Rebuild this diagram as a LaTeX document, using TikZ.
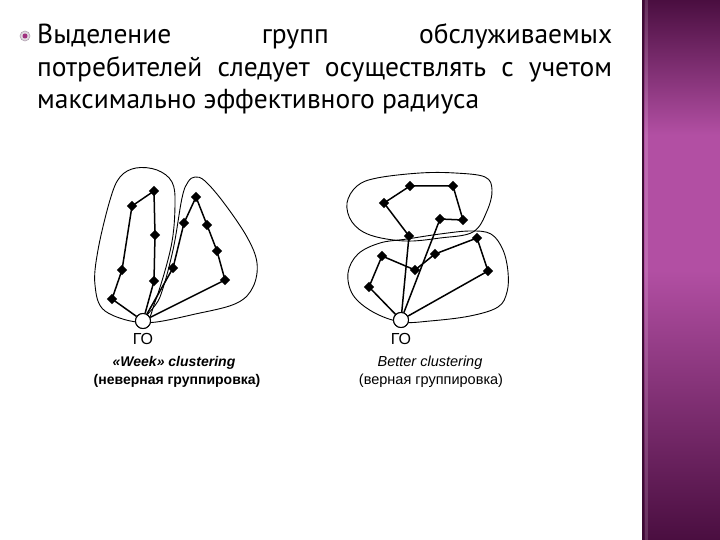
\documentclass[tikz,border=0pt]{standalone}
\usepackage{fontspec}
\setmainfont{PT Sans}
\newfontfamily\labfont{Liberation Sans}
\usetikzlibrary{shapes.geometric}
\definecolor{bardark}{HTML}{4A0E40}
\definecolor{barmid}{HTML}{B24FA3}
\definecolor{bullring}{HTML}{B0A0B0}
\definecolor{bulldot}{HTML}{A0307F}
\tikzset{
  pt/.style={diamond, fill=black, inner sep=0pt, minimum size=10.5pt},
  go/.style={circle, draw=black, fill=white, line width=1pt, inner sep=0pt, minimum size=15pt},
  edge/.style={line width=1.5pt},
  blob/.style={line width=0.9pt},
  body/.style={anchor=base west, inner sep=0pt, font=\fontsize{27.5}{33}\selectfont},
  lab/.style={inner sep=0pt, anchor=base, font=\labfont\fontsize{14.5}{16}\selectfont}
}
\begin{document}
\begin{tikzpicture}[x=1pt,y=-1pt]
\useasboundingbox (0,0) rectangle (720,540);
\fill[white] (0,0) rectangle (720,540);
% side bar
\shade[top color=bardark, bottom color=barmid, middle color=barmid] (642,0) rectangle (720,270);
\shade[top color=barmid, bottom color=bardark] (642,270) rectangle (720,540);
\fill[bardark!80!black] (642,0) rectangle (644,540);
\fill[white, opacity=0.15] (645,0) rectangle (648,540);
% bullet
\node[circle, fill=bullring!40, draw=bullring, line width=0.6pt, minimum size=10pt, inner sep=0pt] (bul) at (25,36) {};
\node[circle, fill=bulldot, minimum size=5pt, inner sep=0pt] (buld) at (25,36) {};
% text
\node[body] (t1) at (37,44) {\makebox[575pt][s]{Выделение групп обслуживаемых}};
\node[body] (t2) at (37,77) {\makebox[575pt][s]{потребителей следует осуществлять с учетом}};
\node[body] (t3) at (37,109) {максимально эффективного радиуса};

% ===== left diagram =====
\draw[blob] plot[smooth cycle, tension=0.6] coordinates {(143,322) (105,311) (95,285) (98,250) (110,200) (120,177) (136,168) (157,170) (172,182) (175,205) (171,247) (155,302)};
\draw[blob] plot[smooth cycle, tension=0.6] coordinates {(146,322) (160,297) (173,250) (182,198) (188,182) (195,177) (205,181) (224,203) (247,237) (257,263) (253,287) (237,303) (200,313)};
\node[go] (go1) at (143,321) {};
\node[pt] (a1) at (112,299) {};
\node[pt] (a2) at (122,270) {};
\node[pt] (a3) at (132,206) {};
\node[pt] (a4) at (154,191) {};
\node[pt] (a5) at (155,235) {};
\node[pt] (a6) at (154,281) {};
\node[pt] (b1) at (173,268) {};
\node[pt] (b2) at (184,223) {};
\node[pt] (b3) at (196,197) {};
\node[pt] (b4) at (207,225) {};
\node[pt] (b5) at (217,251) {};
\node[pt] (b6) at (225,280) {};
\draw[edge] (go1) -- (a1.center) -- (a2.center) -- (a3.center) -- (a4.center) -- (a5.center) -- (a6.center) -- (go1);
\draw[edge] (go1) -- (b1.center) -- (b2.center) -- (b3.center) -- (b4.center) -- (b5.center) -- (b6.center) -- (go1);
\node[go] at (143,321) {};
\node[lab, font=\labfont\fontsize{16}{18}\selectfont] (g1) at (143,344) {ГО};
\node[lab, font=\labfont\bfseries\itshape\fontsize{14}{16}\selectfont] (l1) at (174,366) {«Week» clustering};
\node[lab, font=\labfont\bfseries\fontsize{14}{16}\selectfont] (l2) at (177,384) {(неверная группировка)};

% ===== right diagram =====
\draw[blob] plot[smooth cycle, tension=0.6] coordinates {(347,203) (357,186) (377,178) (420,173) (455,173) (485,177) (492,190) (487,211) (473,232) (440,238) (405,241) (370,235) (352,222)};
\draw[blob] plot[smooth cycle, tension=0.6] coordinates {(401,322) (373,312) (353,295) (348,273) (358,254) (380,243) (407,239) (440,234) (470,231) (491,234) (503,250) (508,272) (507,292) (498,307) (470,316) (430,321)};
\node[pt] (c1) at (409,236) {};
\node[pt] (c2) at (384,203) {};
\node[pt] (c3) at (410,186) {};
\node[pt] (c4) at (453,186) {};
\node[pt] (c5) at (463,220) {};
\node[pt] (c6) at (440,219) {};
\node[pt] (d1) at (369,287) {};
\node[pt] (d2) at (382,256) {};
\node[pt] (d3) at (415,270) {};
\node[pt] (d4) at (435,254) {};
\node[pt] (d5) at (477,238) {};
\node[pt] (d6) at (488,271) {};
\node[go] (go2) at (401,320) {};
\draw[edge] (go2) -- (c1.center) -- (c2.center) -- (c3.center) -- (c4.center) -- (c5.center) -- (c6.center) -- (go2);
\draw[edge] (go2) -- (d1.center) -- (d2.center) -- (d3.center) -- (d4.center) -- (d5.center) -- (d6.center) -- (go2);
\node[go] at (401,320) {};
\node[lab, font=\labfont\fontsize{16}{18}\selectfont] (g2) at (401,344) {ГО};
\node[lab, font=\labfont\itshape\fontsize{14.5}{16}\selectfont] (r1) at (430,366) {Better clustering};
\node[lab, font=\labfont\fontsize{14.5}{16}\selectfont] (r2) at (431,384) {(верная группировка)};
\end{tikzpicture}
\end{document}
